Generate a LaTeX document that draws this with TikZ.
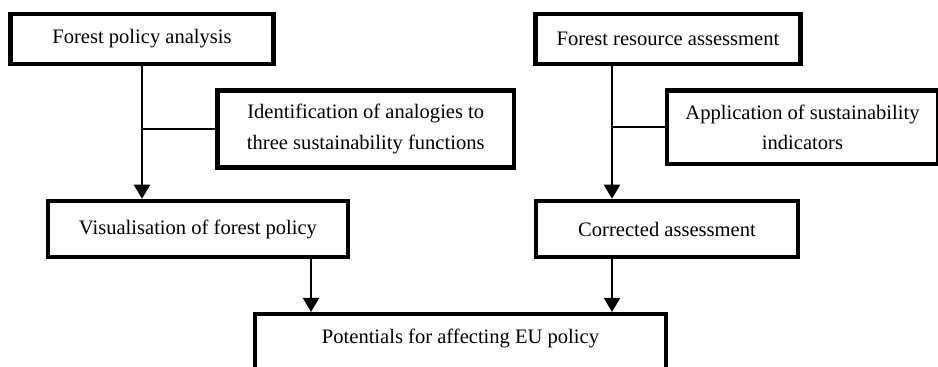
\documentclass[tikz,border=0pt]{standalone}
\usepackage{fontspec}
\setmainfont{Liberation Serif}
\usepackage{tikz}
\usetikzlibrary{arrows.meta,positioning,calc}
\definecolor{ink}{HTML}{000000}
\tikzset{
  stagebox/.style={draw=ink,fill=white,line width=0.09cm,
                   align=center,inner sep=3pt,
                   font=\fontsize{11.7}{17.2}\selectfont},
  tapline/.style={draw=ink,line width=0.035cm},
  flowarr/.style={-{Triangle[length=0.28cm,width=0.32cm]},line width=0.035cm,color=ink}
}

\begin{document}
\begin{tikzpicture}[x=1cm,y=1cm]
  \useasboundingbox (0,0) rectangle (18.76,-7.34);
  \clip (0,0) rectangle (18.76,-7.34);
  % two branches on top
  \node[stagebox,minimum width=5.26cm,minimum height=1.0cm] (policy) at (2.84,-0.78) {Forest policy analysis};
  \node[stagebox,minimum width=5.3cm,minimum height=1.0cm] (resource) at (13.36,-0.78) {Forest resource assessment};
  \node[stagebox,minimum width=5.93cm,minimum height=1.54cm] (analogy) at (7.315,-2.58) {Identification of analogies to\\three sustainability functions};
  \node[stagebox,minimum width=5.42cm,minimum height=1.47cm] (indicator) at (16.05,-2.545) {Application of sustainability\\indicators};
  \node[stagebox,minimum width=6.0cm,minimum height=1.12cm] (visual) at (3.96,-4.58) {Visualisation of forest policy};
  \node[stagebox,minimum width=5.24cm,minimum height=1.12cm] (corrected) at (13.34,-4.58) {Corrected assessment};
  % joint result, runs off the bottom
  \node[stagebox,anchor=north,minimum width=8.22cm,minimum height=1.6cm,
        text height=0.3cm,text depth=0.74cm] (potential) at (9.21,-6.24) {Potentials for affecting EU policy};
  \coordinate (rtap) at (12.24,0);
  \coordinate (ltap) at (6.22,0);
  % connectors
  \draw[flowarr] (policy.south) -- (policy.south |- visual.north);
  \draw[tapline] (analogy.west) -- (analogy.west -| policy.south);
  \draw[flowarr] (resource.south -| rtap) -- (corrected.north -| rtap);
  \draw[tapline] (indicator.west) -- (indicator.west -| rtap);
  \draw[flowarr] (visual.south -| ltap) -- (potential.north -| ltap);
  \draw[flowarr] (corrected.south -| rtap) -- (potential.north -| rtap);
\end{tikzpicture}
\end{document}
